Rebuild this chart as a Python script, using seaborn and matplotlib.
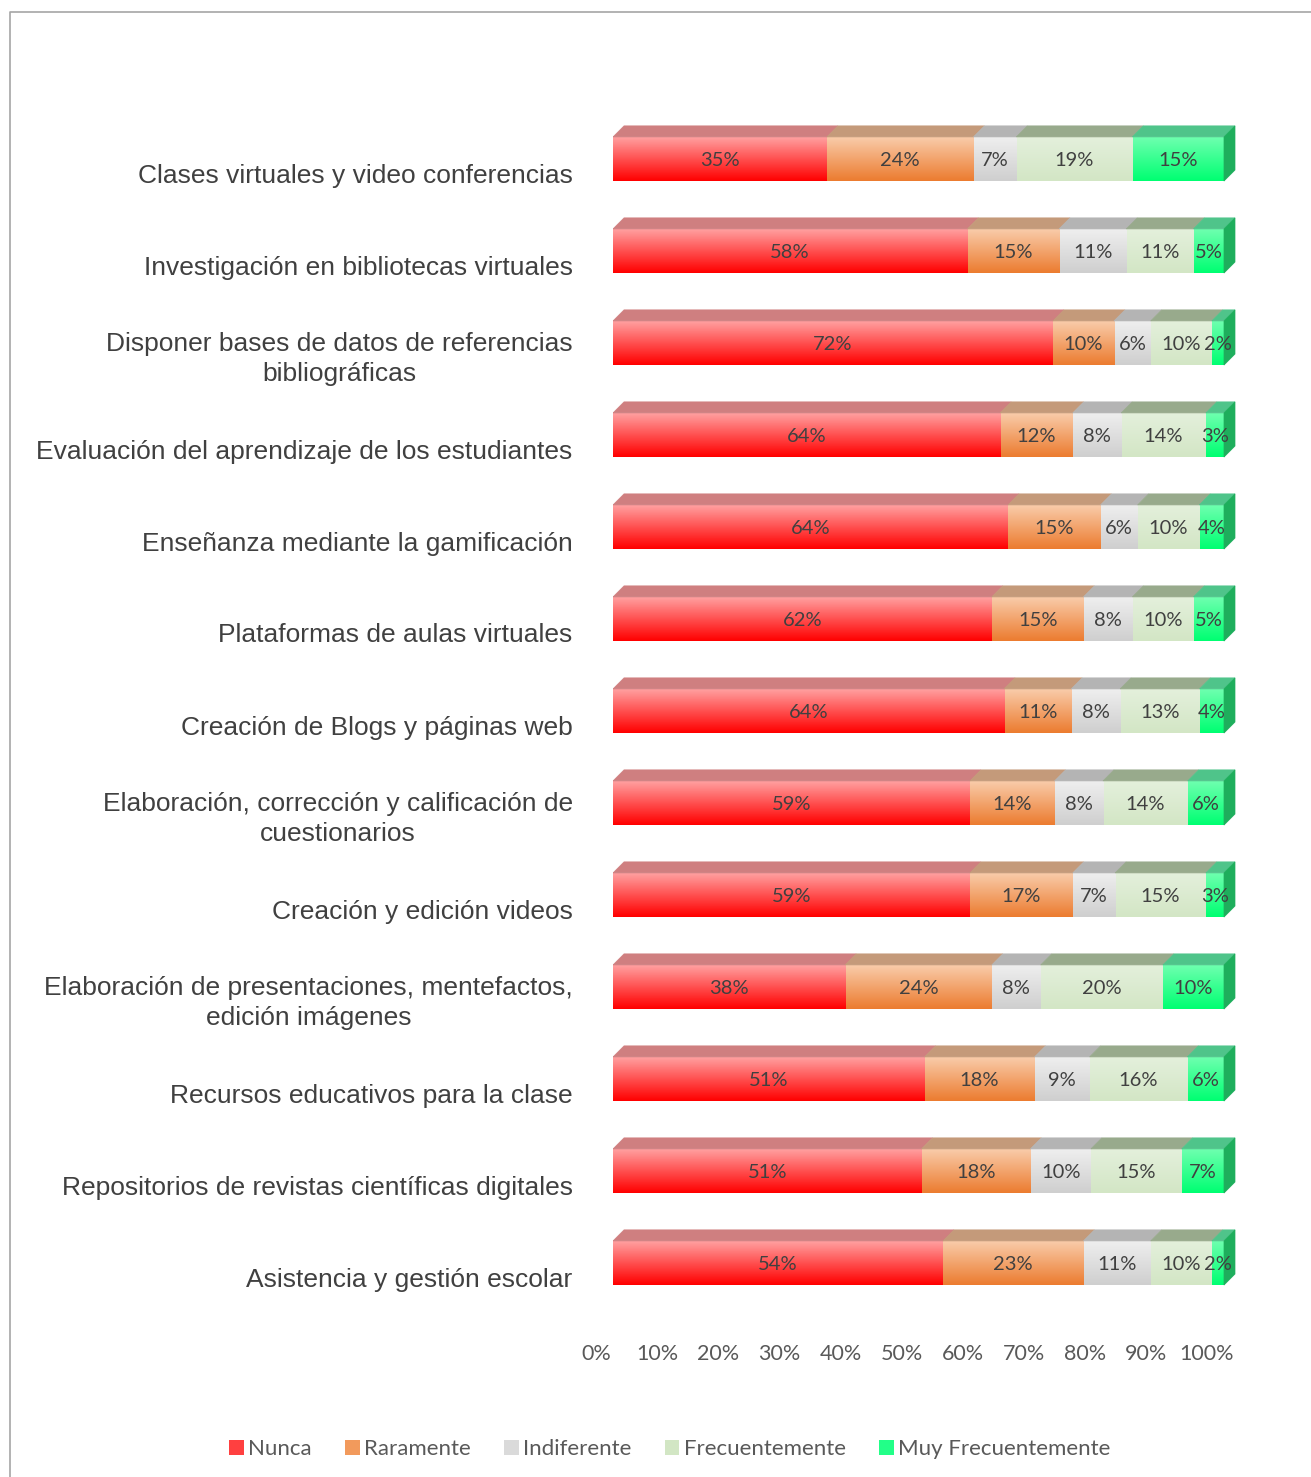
import numpy as np
import pandas as pd
import matplotlib
matplotlib.use("Agg")
import matplotlib.pyplot as plt
import seaborn as sns
from matplotlib.colors import LinearSegmentedColormap
from matplotlib.patches import Polygon, Patch
from matplotlib.lines import Line2D
import matplotlib.transforms as mtransforms

categories = [
    "Clases virtuales y video conferencias",
    "Investigación en bibliotecas virtuales",
    "Disponer bases de datos de referencias\nbibliográficas",
    "Evaluación del aprendizaje de los estudiantes",
    "Enseñanza mediante la gamificación",
    "Plataformas de aulas virtuales",
    "Creación de Blogs y páginas web",
    "Elaboración, corrección y calificación de\ncuestionarios",
    "Creación y edición videos",
    "Elaboración de presentaciones, mentefactos,\nedición imágenes",
    "Recursos educativos para la clase",
    "Repositorios de revistas científicas digitales",
    "Asistencia y gestión escolar",
]
series = ["Nunca", "Raramente", "Indiferente", "Frecuentemente", "Muy Frecuentemente"]
nunca = [35, 58, 72, 64, 64, 62, 64, 59, 59, 38, 51, 51, 54]
raramente = [24, 15, 10, 12, 15, 15, 11, 14, 17, 24, 18, 18, 23]
indiferente = [7, 11, 6, 8, 6, 8, 8, 8, 7, 8, 9, 10, 11]
frecuentemente = [19, 11, 10, 14, 10, 10, 13, 14, 15, 20, 16, 15, 10]
muy_frecuentemente = [15, 5, 2, 3, 4, 5, 4, 6, 3, 10, 6, 7, 2]
tick_values = list(range(0, 101, 10))

# styles
grad_top = ["#ffa3a3", "#f9cdac", "#efefef", "#e4f0dc", "#70ffb0"]
grad_bot = ["#ff0000", "#ec7c30", "#cfcfcf", "#d3e6c5", "#00ff72"]
face_top = ["#cf7f80", "#c49a7a", "#b4b4b4", "#98aa8c", "#4fc48a"]
legend_col = ["#ff4040", "#f29a5c", "#dadada", "#d2e6c4", "#22ff88"]
side_col = "#1eae5c"

sns.set_theme(style="white")
plt.rcParams["font.family"] = ["Liberation Sans", "DejaVu Sans"]

W, H = 1311, 1477
fig = plt.figure(figsize=(W / 100, H / 100), dpi=100)

x0_px, unit_px = 613, 6.11
yc0_px, step_px = 159, 92
xmax = 103.0
ylo, yhi = -0.62, 12.62
left = x0_px / W
width = unit_px * xmax / W
top_px = yc0_px + ylo * step_px
bot_px = yc0_px + yhi * step_px
ax = fig.add_axes([left, 1 - bot_px / H, width, (bot_px - top_px) / H])

data = pd.DataFrame({
    "cat": categories,
    "Nunca": nunca, "Raramente": raramente, "Indiferente": indiferente,
    "Frecuentemente": frecuentemente, "Muy Frecuentemente": muy_frecuentemente,
})
vals = data[series].to_numpy(dtype=float)
norm = vals / vals.sum(axis=1, keepdims=True) * 100
cum = np.cumsum(norm, axis=1)
data_cum = pd.DataFrame(cum, columns=series)
data_cum["cat"] = categories

bar_h = 0.48
dx, dy = 1.8, 0.12
n = len(series)

# draw cumulative bars from longest (bottom layer) to shortest (top layer)
for k in reversed(range(n)):
    z = 2 + 2 * (n - 1 - k)
    n_before = len(ax.patches)
    sns.barplot(data=data_cum, x=series[k], y="cat", orient="y", color=legend_col[k],
                saturation=1, width=bar_h, ax=ax, zorder=z, linewidth=0)
    cmap = LinearSegmentedColormap.from_list("g%d" % k, [grad_top[k], grad_bot[k]])
    for p in ax.patches[n_before:]:
        x0 = p.get_x()
        x1 = x0 + p.get_width()
        y0 = p.get_y()
        h = p.get_height()
        im = ax.imshow(np.linspace(0, 1, 64).reshape(-1, 1), cmap=cmap, aspect="auto",
                       extent=(x0, x1, y0 + h, y0), origin="upper",
                       zorder=z + 1, interpolation="bilinear")
        im.set_clip_path(p)

# top faces, side face and labels
for i in range(len(categories)):
    yt = i - bar_h / 2
    yb = i + bar_h / 2
    prev = 0.0
    for k in range(n):
        l, r = prev, cum[i, k]
        poly = Polygon([(l, yt), (r, yt), (r + dx, yt - dy), (l + dx, yt - dy)],
                       closed=True, facecolor=face_top[k], edgecolor=face_top[k],
                       linewidth=0.5, zorder=20)
        ax.add_patch(poly)
        ax.text((l + r) / 2, i + 0.02, f"{int(vals[i, k])}%", ha="center", va="center",
                fontsize=14.5, color="#404040", family=["Lato", "DejaVu Sans"], zorder=30)
        prev = r
    side = Polygon([(100, yt), (100 + dx, yt - dy), (100 + dx, yb - dy), (100, yb)],
                   closed=True, facecolor=side_col, edgecolor=side_col, linewidth=0.5,
                   zorder=21)
    ax.add_patch(side)

ax.set_xlim(0, xmax)
ax.set_ylim(yhi, ylo)
ax.set_xlabel("")
ax.set_ylabel("")
for s in ax.spines.values():
    s.set_visible(False)
ax.grid(False)

ax.set_xticks(tick_values)
ax.set_xticklabels([f"{t}%" for t in tick_values])
ax.tick_params(axis="x", length=0, pad=17, labelsize=15.5, labelcolor="#595959")
for lab in ax.get_xticklabels():
    lab.set_family(["Lato", "DejaVu Sans"])
    lab.set_transform(lab.get_transform() +
                      mtransforms.ScaledTranslation(-17 / 100, 0, fig.dpi_scale_trans))

ax.tick_params(axis="y", length=0, pad=29, labelsize=19, labelcolor="#404040")
for lab in ax.get_yticklabels():
    lab.set_multialignment("center")
    lab.set_linespacing(1.33)
    shift = -10 if "\n" in lab.get_text() else -14
    lab.set_transform(lab.get_transform() +
                      mtransforms.ScaledTranslation(0, shift / 100, fig.dpi_scale_trans))

handles = [Patch(facecolor=c, edgecolor="none") for c in legend_col]
leg = fig.legend(handles, series, loc="center", bbox_to_anchor=(0.511, 1 - 1449 / H),
                 ncol=5, frameon=False, handlelength=0.65, handleheight=0.65,
                 handletextpad=0.2, columnspacing=1.5,
                 prop={"family": ["Lato", "DejaVu Sans"], "size": 16})
for t in leg.get_texts():
    t.set_color("#595959")

# chart area border
bx, by = 10 / W, 1 - 12 / H
fig.add_artist(Line2D([bx, bx, 1.0], [0.0, by, by], transform=fig.transFigure,
                      color="#a6a6a6", linewidth=1.2))

fig.savefig("out.png", dpi=100)
